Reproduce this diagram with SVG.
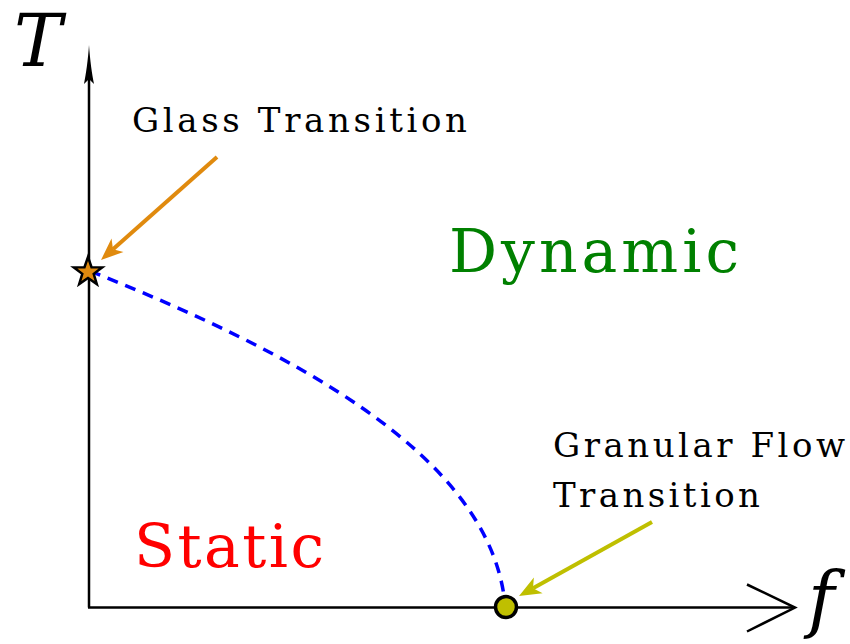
<svg xmlns="http://www.w3.org/2000/svg" width="850" height="644" viewBox="0 0 850 644">
<style>
text{font-family:'DejaVu Serif','Liberation Serif',serif;}
.lbl{font-size:34px;fill:#000;}
.big{font-size:60px;}
.axis{stroke:#000;stroke-width:2.5;fill:none;}
</style>
<defs>
<marker id="ahO" markerUnits="userSpaceOnUse" markerWidth="30" markerHeight="30" viewBox="-10 -10 30 20" refX="0" refY="0" orient="auto">
<path d="M-6,-9 L16,0 L-6,9 L0,0 Z" fill="#e08a0e"/>
</marker>
<marker id="ahY" markerUnits="userSpaceOnUse" markerWidth="30" markerHeight="30" viewBox="-10 -10 30 20" refX="0" refY="0" orient="auto">
<path d="M-6,-9 L16,0 L-6,9 L0,0 Z" fill="#bfbf00"/>
</marker>
</defs>
<rect width="850" height="644" fill="#fff"/>
<g id="axes">
<line class="axis" x1="89" y1="607.5" x2="89" y2="78"/>
<path d="M89,45 C90,60 92,74 94,84 L89,79 L84,84 C86,74 88,60 89,45 Z" fill="#000"/>
<line class="axis" x1="88" y1="607.5" x2="795" y2="607.5"/>
<polyline class="axis" points="747,584.5 795,607.5 747,631.5"/>
<text x="14" y="66" font-size="72" font-style="italic">T</text>
<text x="808" y="624" font-size="72" font-style="italic">f</text>
</g>
<g id="connectors">
<path d="M90,271 C290,351 490,454 505,604" fill="none" stroke="#0000ff" stroke-width="3.5" stroke-dasharray="11,8"/>
<line x1="217" y1="157" x2="113" y2="249.3" stroke="#e08a0e" stroke-width="4" marker-end="url(#ahO)"/>
<line x1="652" y1="522" x2="533" y2="588.2" stroke="#bfbf00" stroke-width="4" marker-end="url(#ahY)"/>
</g>
<g id="glass-point">
<path d="M88,257 L91.53,267.15 L102.27,267.36 L93.71,273.85 L96.82,284.14 L88,278 L79.18,284.14 L82.29,273.85 L73.73,267.36 L84.47,267.15 Z" fill="#e08a0e" stroke="#000" stroke-width="2.5" stroke-linejoin="miter"/>
</g>
<g id="granular-point">
<circle cx="506" cy="607" r="10.5" fill="#bfbf00" stroke="#000" stroke-width="3.5"/>
</g>
<g id="glass-label">
<text class="lbl" x="132" y="132" textLength="335" lengthAdjust="spacing">Glass Transition</text>
</g>
<g id="granular-label">
<text class="lbl" x="553" y="457" textLength="292" lengthAdjust="spacing">Granular Flow</text>
<text class="lbl" x="553" y="507" textLength="207" lengthAdjust="spacing">Transition</text>
</g>
<g id="dynamic">
<text class="big" x="449" y="272" fill="#008000" textLength="290" lengthAdjust="spacing">Dynamic</text>
</g>
<g id="static">
<text class="big" x="134" y="567" fill="#ff0000" textLength="190" lengthAdjust="spacing">Static</text>
</g>
</svg>
